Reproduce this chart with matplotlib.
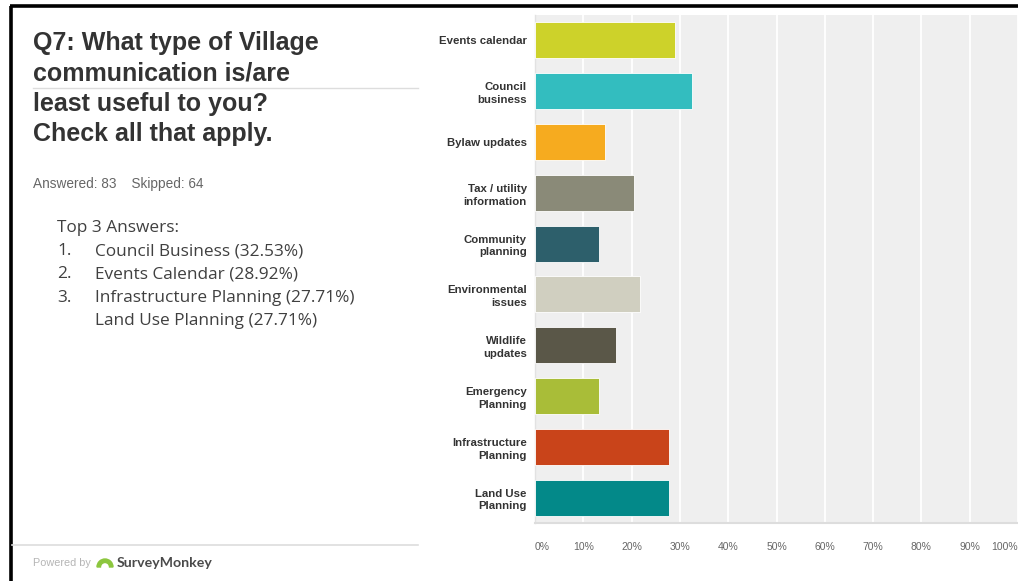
import numpy as np
import matplotlib
matplotlib.use('Agg')
import matplotlib.pyplot as plt
from matplotlib.patches import Wedge

W, H = 1018, 581

# answer choices, top to bottom, with share of respondents (%)
categories = ['Events calendar', 'Council\nbusiness', 'Bylaw updates',
              'Tax / utility\ninformation', 'Community\nplanning',
              'Environmental\nissues', 'Wildlife\nupdates',
              'Emergency\nPlanning', 'Infrastructure\nPlanning',
              'Land Use\nPlanning']
percents = [28.92, 32.53, 14.46, 20.48, 13.25, 21.69, 16.87, 13.25, 27.71, 27.71]
bar_colors = ['#cdd22a', '#33bdbf', '#f6ab1f', '#8a8a78', '#2d5f6b',
              '#d0cfc0', '#5a5748', '#a9bd38', '#c9441a', '#038989']
tick_vals = np.arange(0, 101, 10)
tick_labels = ['%d%%' % t for t in tick_vals]

title_lines = ['Q7: What type of Village', 'communication is/are',
               'least useful to you?', 'Check all that apply.']
answered, skipped = 83, 64
top_nums = ['1.', '2.', '3.', '']
top_items = ['Council Business (32.53%)', 'Events Calendar (28.92%)',
             'Infrastructure Planning (27.71%)', 'Land Use Planning (27.71%)']

fig = plt.figure(figsize=(W / 100, H / 100), dpi=100)
fig.patch.set_facecolor('white')

# bar chart on the right
ax = fig.add_axes([535 / W, 1 - 523 / H, (W - 535) / W, 508 / H])
ax.set_facecolor('#efefef')
y = np.arange(len(categories))
ax.barh(y, percents, height=0.71, color=bar_colors, edgecolor='#ffffff',
        linewidth=0.6, zorder=3)
ax.set_ylim(len(categories) - 0.5, -0.5)
ax.set_xlim(0, 100)
ax.set_yticks(y)
ax.set_yticklabels(categories, fontsize=8.2, fontweight='bold', color='#333333',
                   family='Liberation Sans', linespacing=1.35)
ax.set_xticks(tick_vals)
ax.set_xticklabels(tick_labels, fontsize=7.5, color='#666666', family='Liberation Sans')
ax.xaxis.grid(True, color='white', linewidth=1.3, zorder=1)
ax.set_axisbelow(True)
ax.tick_params(axis='y', length=0, pad=6)
ax.tick_params(axis='x', length=0, pad=14)
xt = ax.get_xticklabels()
xt[0].set_ha('left')
xt[-1].set_ha('right')
for s in ['top', 'right']:
    ax.spines[s].set_visible(False)
ax.spines['bottom'].set_color('#dddddd')
ax.spines['bottom'].set_linewidth(1.5)
ax.spines['left'].set_color('#e2e2e2')
ax.spines['left'].set_linewidth(1.0)

# overlay in pixel coordinates for the text panel
ov = fig.add_axes([0, 0, 1, 1], zorder=-1)
ov.set_xlim(0, W)
ov.set_ylim(H, 0)
ov.axis('off')

ov.plot([11, 11], [6, H], color='black', lw=2.6, solid_capstyle='butt')
ov.plot([10, W], [6, 6], color='black', lw=2.6, solid_capstyle='butt')

for i, line in enumerate(title_lines):
    ov.text(33, 43 + 30.5 * i, line, fontsize=18, fontweight='bold',
            color='#333333', family='Liberation Sans', va='center', ha='left')
ov.plot([33, 418], [88, 88], color='#dddddd', lw=1)

ov.text(33, 184, 'Answered: %d    Skipped: %d' % (answered, skipped), fontsize=9.8,
        color='#666666', family='Liberation Sans', va='center')

ov.text(57, 228, 'Top 3 Answers:', fontsize=12.4, color='#404040',
        family='Open Sans', va='center')
for i, (n, item) in enumerate(zip(top_nums, top_items)):
    yy = 251 + 23.3 * i
    ov.text(57, yy, n, fontsize=12.4, color='#404040', family='Open Sans', va='center')
    ov.text(95, yy, item, fontsize=12.4, color='#404040', family='Open Sans', va='center')

ov.plot([12, 418], [545, 545], color='#dddddd', lw=1.2)
ov.text(33, 563, 'Powered by', fontsize=7.8, color='#b5b5b5',
        family='Liberation Sans', va='center')
ov.add_patch(Wedge((105, 567), 8, 180, 360, width=3.5, color='#8cc63e'))
ov.text(117, 563, 'SurveyMonkey', fontsize=10.2, fontweight='bold', color='#4a4a4a',
        family='Lato', va='center')

fig.savefig('out.png', dpi=100)
